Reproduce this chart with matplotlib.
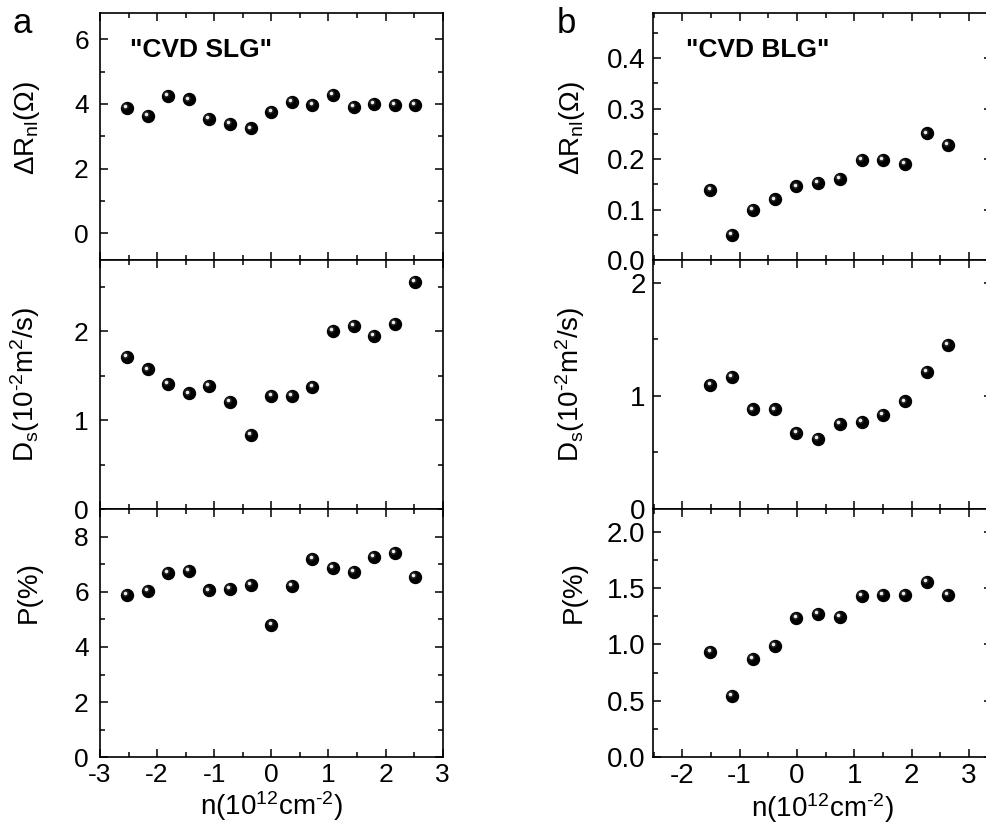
import matplotlib
matplotlib.use('Agg')
import matplotlib.pyplot as plt
from matplotlib.ticker import MultipleLocator
from matplotlib.transforms import offset_copy

plt.rcParams['font.family'] = ['Liberation Sans', 'DejaVu Sans']
plt.rcParams['mathtext.fontset'] = 'custom'
plt.rcParams['mathtext.rm'] = 'Liberation Sans'
plt.rcParams['mathtext.it'] = 'Liberation Sans:italic'
plt.rcParams['mathtext.bf'] = 'Liberation Sans:bold'
plt.rcParams['axes.unicode_minus'] = False

# CVD SLG (panel a)
n_slg = [-2.53, -2.16, -1.81, -1.45, -1.09, -0.72, -0.36, 0.0, 0.36, 0.72, 1.08, 1.44, 1.80, 2.16, 2.52]
dR_slg = [3.88, 3.62, 4.25, 4.14, 3.53, 3.39, 3.24, 3.74, 4.05, 3.96, 4.27, 3.90, 3.99, 3.96, 3.96]
Ds_slg = [1.71, 1.57, 1.41, 1.30, 1.38, 1.20, 0.83, 1.27, 1.27, 1.37, 2.00, 2.06, 1.95, 2.08, 2.55]
P_slg = [5.89, 6.03, 6.69, 6.75, 6.05, 6.11, 6.24, 4.80, 6.22, 7.19, 6.87, 6.72, 7.25, 7.40, 6.53]

# CVD BLG (panel b)
n_blg = [-1.51, -1.14, -0.77, -0.38, -0.01, 0.37, 0.75, 1.13, 1.50, 1.89, 2.27, 2.64]
dR_blg = [0.139, 0.049, 0.099, 0.120, 0.146, 0.152, 0.161, 0.199, 0.198, 0.191, 0.251, 0.228]
Ds_blg = [1.10, 1.17, 0.88, 0.88, 0.67, 0.62, 0.75, 0.77, 0.83, 0.95, 1.21, 1.45]
P_blg = [0.936, 0.546, 0.874, 0.989, 1.235, 1.268, 1.241, 1.427, 1.439, 1.439, 1.557, 1.436]

lbl_dR = r'$\Delta$R$_{\rm nl}$($\Omega$)'
lbl_Ds = 'D$_{\\rm s}$(10$^{\\rm \u20102}$m$^{\\rm 2}$/s)'
lbl_P = 'P(%)'
lbl_n = 'n(10$^{\\rm 12}$cm$^{\\rm \u20102}$)'

fig = plt.figure(figsize=(9.86, 8.39), dpi=100)

rows = [(0.6901, 0.2948), (0.3933, 0.2968), (0.0974, 0.2959)]


def balls(ax, x, y):
    # black sphere with a small highlight
    ax.plot(x, y, 'o', color='black', markersize=8.6, zorder=3, clip_on=False)
    tr = offset_copy(ax.transData, fig=fig, x=-1.3, y=1.3, units='points')
    ax.plot(x, y, 'o', color='#555555', markersize=5.0, markeredgewidth=0, alpha=0.35,
            transform=tr, zorder=3.5, clip_on=False)
    ax.plot(x, y, 'o', color='#ececec', markersize=2.6, markeredgewidth=0,
            transform=tr, zorder=4, clip_on=False)


def style(ax, xlim, xmaj, ymaj, ymin, fs, pad):
    ax.set_xlim(*xlim)
    ax.xaxis.set_major_locator(MultipleLocator(xmaj))
    ax.xaxis.set_minor_locator(MultipleLocator(xmaj / 2))
    ax.yaxis.set_major_locator(MultipleLocator(ymaj))
    ax.yaxis.set_minor_locator(MultipleLocator(ymin))
    for s in ax.spines.values():
        s.set_linewidth(1.2)
    ax.tick_params(which='both', direction='in', top=True, right=True, width=1.1)
    ax.tick_params(which='major', length=6)
    ax.tick_params(which='minor', length=3.5)
    ax.tick_params(axis='y', labelsize=fs, pad=pad)
    ax.tick_params(axis='x', labelsize=fs, pad=4)


# column a
ylims_a = [(-0.83, 6.82), (0, 2.8), (0, 9)]
ymaj_a = [2, 1, 2]
ymin_a = [1, 0.5, 1]
data_a = [dR_slg, Ds_slg, P_slg]
labels = [lbl_dR, lbl_Ds, lbl_P]
label_y = [0.535, 0.5, 0.667]

for i, (b, h) in enumerate(rows):
    ax = fig.add_axes([0.1014, b, 0.3476, h])
    style(ax, (-3, 3), 1, ymaj_a[i], ymin_a[i], 19, 8)
    ax.set_ylim(*ylims_a[i])
    balls(ax, n_slg, data_a[i])
    ax.set_ylabel(labels[i], fontsize=20)
    ax.yaxis.set_label_coords(-0.17, label_y[i])
    if i < 2:
        ax.tick_params(axis='x', labelbottom=False)
    else:
        ax.set_xlabel(lbl_n, fontsize=20, labelpad=2)
    if i == 0:
        ax.text(0.088, 0.85, '"CVD SLG"', transform=ax.transAxes, fontsize=19,
                fontweight='bold', va='center', ha='left')

# column b
ylims_b = [(0, 0.49), (0, 2.2), (0, 2.2)]
ymaj_b = [0.1, 1, 0.5]
ymin_b = [0.05, 0.5, 0.25]
data_b = [dR_blg, Ds_blg, P_blg]
fmt_b = ['%.1f', '%d', '%.1f']

for i, (b, h) in enumerate(rows):
    ax = fig.add_axes([0.6618, b, 0.344, h])
    style(ax, (-2.52, 3.4), 1, ymaj_b[i], ymin_b[i], 20, 5)
    ax.set_ylim(*ylims_b[i])
    ax.yaxis.set_major_formatter(plt.FormatStrFormatter(fmt_b[i]))
    balls(ax, n_blg, data_b[i])
    ax.set_ylabel(labels[i], fontsize=20)
    ax.yaxis.set_label_coords(-0.193, label_y[i])
    if i < 2:
        ax.tick_params(axis='x', labelbottom=False)
    else:
        ax.set_xlabel(lbl_n, fontsize=20, labelpad=2)
    if i == 0:
        ax.text(0.1, 0.85, '"CVD BLG"', transform=ax.transAxes, fontsize=19,
                fontweight='bold', va='center', ha='left')

fig.text(13 / 986, 1 - 33 / 839, 'a', fontsize=25, ha='left', va='baseline')
fig.text(557 / 986, 1 - 33 / 839, 'b', fontsize=25, ha='left', va='baseline')

fig.savefig('out.png', dpi=100)
